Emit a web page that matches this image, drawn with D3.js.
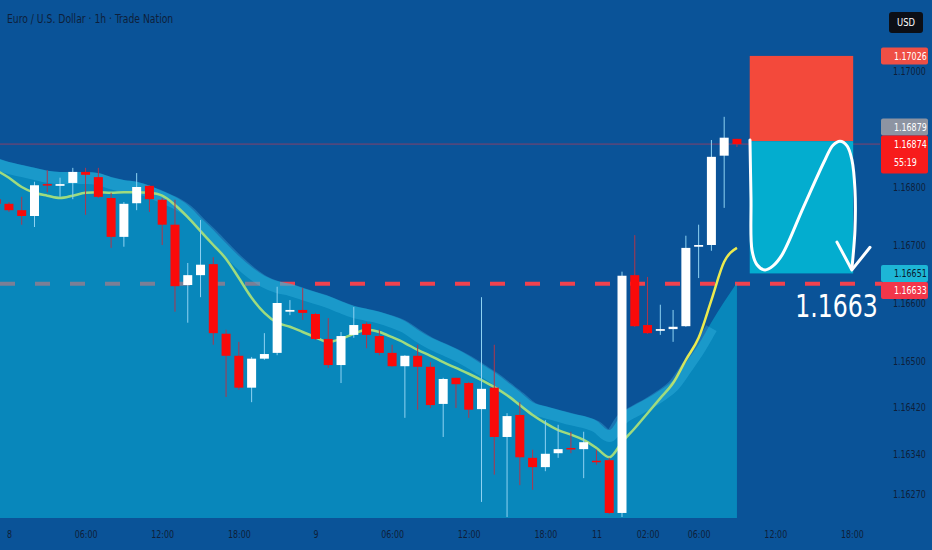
<!DOCTYPE html>
<html>
<head>
<meta charset="utf-8">
<script src="https://cdn.jsdelivr.net/npm/d3@7"></script>
<style>
html, body { margin: 0; padding: 0; background: #0a5398; }
svg { display: block; }
text { font-family: "DejaVu Sans Condensed", "DejaVu Sans", sans-serif; }
</style>
</head>
<body>
<div id="chart"></div>
<script>
// bars start one hour before the "8" tick
var first_bar = -1;
var bar_open = [1.16779, 1.16771, 1.16760, 1.16750, 1.16805, 1.16802, 1.16807, 1.16826, 1.16817, 1.16781,
    1.16714, 1.16772, 1.16802, 1.16778, 1.16735, 1.16631, 1.16648, 1.16667, 1.16547, 1.16509,
    1.16454, 1.16504, 1.16514, 1.16585, 1.16588, 1.16581, 1.16538, 1.16493, 1.16545, 1.16564,
    1.16543, 1.16514, 1.16491, 1.16509, 1.16490, 1.16426, 1.16471, 1.16462, 1.16417, 1.16454,
    1.16369, 1.16407, 1.16333, 1.16317, 1.16341, 1.16350, 1.16348, 1.16328, 1.16329, 1.16238,
    1.16648, 1.16562, 1.16552, 1.16555, 1.16560, 1.16697, 1.16700, 1.16854, 1.16883];
var bar_high = [1.16783, 1.16774, 1.16783, 1.16809, 1.16829, 1.16816, 1.16833, 1.16833, 1.16833, 1.16790,
    1.16774, 1.16824, 1.16803, 1.16781, 1.16778, 1.16669, 1.16743, 1.16679, 1.16554, 1.16533,
    1.16507, 1.16548, 1.16628, 1.16605, 1.16626, 1.16583, 1.16574, 1.16550, 1.16593, 1.16567,
    1.16554, 1.16528, 1.16510, 1.16528, 1.16498, 1.16471, 1.16471, 1.16464, 1.16610, 1.16528,
    1.16410, 1.16429, 1.16347, 1.16398, 1.16390, 1.16378, 1.16378, 1.16347, 1.16333, 1.16654,
    1.16717, 1.16645, 1.16597, 1.16588, 1.16716, 1.16735, 1.16881, 1.16921, 1.16883];
var bar_low = [1.16767, 1.16757, 1.16735, 1.16731, 1.16791, 1.16783, 1.16779, 1.16752, 1.16781, 1.16695,
    1.16697, 1.16760, 1.16757, 1.16700, 1.16585, 1.16566, 1.16610, 1.16528, 1.16438, 1.16450,
    1.16429, 1.16502, 1.16510, 1.16579, 1.16571, 1.16536, 1.16488, 1.16462, 1.16540, 1.16522,
    1.16510, 1.16490, 1.16402, 1.16416, 1.16419, 1.16369, 1.16419, 1.16402, 1.16257, 1.16304,
    1.16231, 1.16286, 1.16278, 1.16310, 1.16333, 1.16341, 1.16298, 1.16321, 1.16236, 1.16231,
    1.16559, 1.16547, 1.16545, 1.16533, 1.16559, 1.16643, 1.16690, 1.16764, 1.16869];
var bar_close = [1.16771, 1.16760, 1.16750, 1.16803, 1.16803, 1.16805, 1.16826, 1.16821, 1.16783, 1.16714,
    1.16771, 1.16800, 1.16779, 1.16735, 1.16629, 1.16648, 1.16666, 1.16548, 1.16509, 1.16454,
    1.16504, 1.16512, 1.16600, 1.16588, 1.16583, 1.16538, 1.16493, 1.16543, 1.16562, 1.16545,
    1.16514, 1.16491, 1.16509, 1.16490, 1.16424, 1.16469, 1.16460, 1.16416, 1.16452, 1.16369,
    1.16405, 1.16334, 1.16317, 1.16340, 1.16348, 1.16348, 1.16360, 1.16326, 1.16238, 1.16647,
    1.16560, 1.16548, 1.16555, 1.16559, 1.16695, 1.16700, 1.16852, 1.16885, 1.16874];

// moving average (green/yellow) and the upper band of the shaded cloud
var ema_line = [1.16829, 1.16816, 1.16800, 1.16790, 1.16785, 1.16781, 1.16785, 1.16790, 1.16791, 1.16790,
    1.16791, 1.16791, 1.16790, 1.16785, 1.16769, 1.16748, 1.16724, 1.16700, 1.16676, 1.16643,
    1.16609, 1.16583, 1.16566, 1.16559, 1.16550, 1.16541, 1.16533, 1.16538, 1.16547, 1.16554,
    1.16550, 1.16541, 1.16531, 1.16519, 1.16509, 1.16498, 1.16488, 1.16478, 1.16467, 1.16455,
    1.16441, 1.16424, 1.16407, 1.16393, 1.16381, 1.16373, 1.16364, 1.16350, 1.16334, 1.16360,
    1.16384, 1.16410, 1.16436, 1.16462, 1.16502, 1.16540, 1.16605, 1.16671, 1.16695];
var band_top = [1.16850, 1.16843, 1.16838, 1.16833, 1.16828, 1.16826, 1.16826, 1.16826, 1.16824, 1.16817,
    1.16812, 1.16809, 1.16802, 1.16793, 1.16783, 1.16769, 1.16747, 1.16726, 1.16703, 1.16681,
    1.16662, 1.16647, 1.16638, 1.16633, 1.16626, 1.16619, 1.16612, 1.16603, 1.16595, 1.16590,
    1.16585, 1.16578, 1.16569, 1.16554, 1.16541, 1.16531, 1.16521, 1.16509, 1.16495, 1.16481,
    1.16464, 1.16447, 1.16429, 1.16422, 1.16416, 1.16410, 1.16405, 1.16397, 1.16381, 1.16410,
    1.16424, 1.16436, 1.16450, 1.16467, 1.16497, 1.16529, 1.16567, 1.16602, 1.16635];

var time_ticks = [0, 6, 12, 18, 24, 30, 36, 42, 46, 50, 54, 60, 66];
var time_labels = ["8", "06:00", "12:00", "18:00", "9", "06:00", "12:00", "18:00", "11", "02:00", "06:00", "12:00", "18:00"];
var price_ticks = [1.17000, 1.16800, 1.16700, 1.16600, 1.16500, 1.16420, 1.16340, 1.16270];

var last_price = 1.16874;
var countdown = "55:19";
var support_level = 1.16633;
var tag_values = [1.17026, 1.16879, 1.16874, 1.16651, 1.16633];

// short position drawing: bars 58 -> 66.1
var plan_bars = [58, 66.1];
var stop_price = 1.17026;
var entry_price = 1.16879;
var target_price = 1.16651;
var target_text = "1.1663";
var sketch_points = [[58.02, 1.16881], [58.1, 1.16780], [58.18, 1.16691], [58.57, 1.16666], [59.2, 1.16657],
    [59.82, 1.16664], [60.53, 1.16683], [62.2, 1.16765], [63.9, 1.16847], [64.52, 1.16872], [65.07, 1.16879],
    [65.62, 1.16871], [66.0, 1.16847], [66.24, 1.16795], [66.24, 1.16726], [66.0, 1.16660]];
var arrow_points = [[64.83, 1.16705], [66.0, 1.16657], [67.42, 1.16696]];

var width = 932, height = 550;
var plot_w = 880, plot_h = 518;

var bars = bar_open.map(function (o, k) {
    return {i: k + first_bar, o: o, h: bar_high[k], l: bar_low[k], c: bar_close[k], ema: ema_line[k], band: band_top[k]};
});

var x = d3.scaleLinear().domain([-0.7, 68.2]).range([0, plot_w]);
var y = d3.scaleLinear().domain([1.162293, 1.171224]).range([plot_h, 0]);

// squeeze text horizontally around its anchor, to get the narrow look of the original font
function condense(sel, f) {
    sel.each(function () {
        var tx = parseFloat(d3.select(this).attr("x")) || 0;
        d3.select(this).attr("transform", "translate(" + tx + ",0) scale(" + f + ",1) translate(" + (-tx) + ",0)");
    });
}

var svg = d3.select("#chart").append("svg")
    .attr("width", width)
    .attr("height", height);

svg.append("rect").attr("width", width).attr("height", height).attr("fill", "#0a5398");

var defs = svg.append("defs");
defs.append("clipPath").attr("id", "plot_clip")
    .append("rect").attr("width", plot_w).attr("height", plot_h);
var grad = defs.append("linearGradient").attr("id", "ema_grad")
    .attr("gradientUnits", "userSpaceOnUse")
    .attr("x1", x(51.5)).attr("x2", x(53.5)).attr("y1", 0).attr("y2", 0);
grad.append("stop").attr("offset", 0).attr("stop-color", "#9fdb7e");
grad.append("stop").attr("offset", 1).attr("stop-color", "#ecea4e");

// support level, drawn below the cloud so it fades inside it
svg.append("line")
    .attr("x1", 0).attr("x2", 882)
    .attr("y1", y(support_level)).attr("y2", y(support_level))
    .attr("stroke", "#f0424e")
    .attr("stroke-width", 4)
    .attr("stroke-dasharray", "15,20");

var plot = svg.append("g").attr("clip-path", "url(#plot_clip)");

var cloud = d3.area()
    .curve(d3.curveMonotoneX)
    .x(function (d) { return x(d.i); })
    .y0(plot_h)
    .y1(function (d) { return y(d.band); });
plot.append("path").datum(bars)
    .attr("d", cloud)
    .attr("fill", "rgba(5,188,221,0.5)");

var band_line = d3.line()
    .curve(d3.curveMonotoneX)
    .x(function (d) { return x(d.i); })
    .y(function (d) { return y(d.band); });
plot.append("path").datum(bars.filter(function (d) { return d.i < 56; }))
    .attr("d", band_line)
    .attr("transform", "translate(0,6)")
    .attr("fill", "none")
    .attr("stroke", "rgba(70,195,240,0.3)")
    .attr("stroke-width", 12);

var ema_path = d3.line()
    .curve(d3.curveMonotoneX)
    .x(function (d) { return x(d.i); })
    .y(function (d) { return y(d.ema); });
plot.append("path").datum(bars)
    .attr("d", ema_path)
    .attr("fill", "none")
    .attr("stroke", "url(#ema_grad)")
    .attr("stroke-width", 2.5);

// last price line
plot.append("line")
    .attr("x1", 0).attr("x2", plot_w)
    .attr("y1", y(last_price)).attr("y2", y(last_price))
    .attr("stroke", "rgba(235,50,70,0.55)")
    .attr("stroke-width", 1);

// candles
var candle = plot.append("g").selectAll("g")
    .data(bars)
    .enter().append("g");
candle.append("line")
    .attr("x1", function (d) { return x(d.i); })
    .attr("x2", function (d) { return x(d.i); })
    .attr("y1", function (d) { return y(d.h); })
    .attr("y2", function (d) { return y(d.l); })
    .attr("stroke", function (d) { return d.c >= d.o ? "#8ed2f2" : "#b0364c"; })
    .attr("stroke-width", 1);
candle.append("rect")
    .attr("x", function (d) { return x(d.i) - 4.5; })
    .attr("width", 9)
    .attr("y", function (d) { return y(Math.max(d.o, d.c)); })
    .attr("height", function (d) { return Math.max(1.5, Math.abs(y(d.o) - y(d.c))); })
    .attr("fill", function (d) { return d.c >= d.o ? "#ffffff" : "#fa0a0a"; });

// trade plan boxes
plot.append("rect")
    .attr("x", x(plan_bars[0])).attr("width", x(plan_bars[1]) - x(plan_bars[0]))
    .attr("y", y(stop_price)).attr("height", y(entry_price) - y(stop_price))
    .attr("fill", "#f3493b");
plot.append("rect")
    .attr("x", x(plan_bars[0])).attr("width", x(plan_bars[1]) - x(plan_bars[0]))
    .attr("y", y(entry_price)).attr("height", y(target_price) - y(entry_price))
    .attr("fill", "#03adcf");

var sketch = d3.line()
    .curve(d3.curveCatmullRom)
    .x(function (d) { return x(d[0]); })
    .y(function (d) { return y(d[1]); });
svg.append("path").datum(sketch_points)
    .attr("d", sketch)
    .attr("fill", "none")
    .attr("stroke", "#ffffff")
    .attr("stroke-width", 3)
    .attr("stroke-linecap", "round");
svg.append("path").datum(arrow_points)
    .attr("d", d3.line().x(function (d) { return x(d[0]); }).y(function (d) { return y(d[1]); }))
    .attr("fill", "none")
    .attr("stroke", "#ffffff")
    .attr("stroke-width", 3)
    .attr("stroke-linecap", "round")
    .attr("stroke-linejoin", "round");

svg.append("text")
    .attr("x", x(64.8))
    .attr("y", y(1.16576))
    .attr("text-anchor", "middle")
    .attr("fill", "#ffffff")
    .style("font-size", "32px")
    .text(target_text)
    .call(condense, 0.82);

// price axis
var yaxis = d3.axisRight(y)
    .tickValues(price_ticks)
    .tickFormat(d3.format(".5f"))
    .tickSize(0)
    .tickPadding(0);
var yaxis_g = svg.append("g")
    .attr("transform", "translate(893,0)")
    .call(yaxis);
yaxis_g.select(".domain").remove();
yaxis_g.selectAll("text")
    .attr("fill", "#0e1f3a")
    .style("font-size", "11px")
    .style("font-family", "'DejaVu Sans Condensed', 'DejaVu Sans', sans-serif")
    .call(condense, 0.8);

// time axis
var xaxis = d3.axisBottom(x)
    .tickValues(time_ticks)
    .tickFormat(function (d, k) { return time_labels[k]; })
    .tickSize(0)
    .tickPadding(12);
var xaxis_g = svg.append("g")
    .attr("transform", "translate(0," + plot_h + ")")
    .call(xaxis);
xaxis_g.select(".domain").remove();
xaxis_g.selectAll("text")
    .attr("fill", "#0e1f3a")
    .style("font-size", "11px")
    .style("font-family", "'DejaVu Sans Condensed', 'DejaVu Sans', sans-serif")
    .call(condense, 0.8);

// price tags on the axis, pushed apart around the live price tag
var tag_fill = ["#ef4f45", "#8d94a2", "#f71b1b", "#1db6d6", "#f2364a"];
var tag_ink = ["#ffffff", "#ffffff", "#ffffff", "#0b1a2e", "#ffffff"];
var tags = tag_values.map(function (v, k) {
    var is_last = v === last_price;
    var top = y(v) - 8.5;
    return {v: v, k: k, last: is_last, top: top, h: is_last ? 38 : 17};
});
tags.sort(function (a, b) { return a.top - b.top; });
var live = tags.findIndex(function (t) { return t.last; });
for (var k = live - 1; k >= 0; k--) {
    if (tags[k].top + tags[k].h > tags[k + 1].top) tags[k].top = tags[k + 1].top - tags[k].h;
}
for (var k = live + 1; k < tags.length; k++) {
    if (tags[k].top < tags[k - 1].top + tags[k - 1].h) tags[k].top = tags[k - 1].top + tags[k - 1].h;
}
var tag_g = svg.append("g").selectAll("g")
    .data(tags)
    .enter().append("g");
tag_g.append("rect")
    .attr("x", 881).attr("width", 47)
    .attr("y", function (d) { return d.top; })
    .attr("height", function (d) { return d.h; })
    .attr("rx", 2)
    .attr("fill", function (d) { return tag_fill[d.k]; });
tag_g.append("text")
    .attr("x", 894)
    .attr("y", function (d) { return d.top + 12.5; })
    .attr("fill", function (d) { return tag_ink[d.k]; })
    .style("font-size", "11px")
    .text(function (d) { return d3.format(".5f")(d.v); })
    .call(condense, 0.8);
tag_g.filter(function (d) { return d.last; }).append("text")
    .attr("x", 894)
    .attr("y", function (d) { return d.top + 30; })
    .attr("fill", "#ffffff")
    .style("font-size", "11px")
    .text(countdown)
    .call(condense, 0.8);

// header
svg.append("text")
    .attr("x", 7).attr("y", 23)
    .attr("fill", "#0e1f3a")
    .style("font-size", "13px")
    .text("Euro / U.S. Dollar · 1h · Trade Nation")
    .call(condense, 0.79);

svg.append("rect")
    .attr("x", 889).attr("y", 12)
    .attr("width", 34).attr("height", 21)
    .attr("rx", 3)
    .attr("fill", "#0c0f16");
svg.append("text")
    .attr("x", 906).attr("y", 26.5)
    .attr("text-anchor", "middle")
    .attr("fill", "#ffffff")
    .style("font-size", "11px")
    .text("USD")
    .call(condense, 0.85);
</script>
</body>
</html>
